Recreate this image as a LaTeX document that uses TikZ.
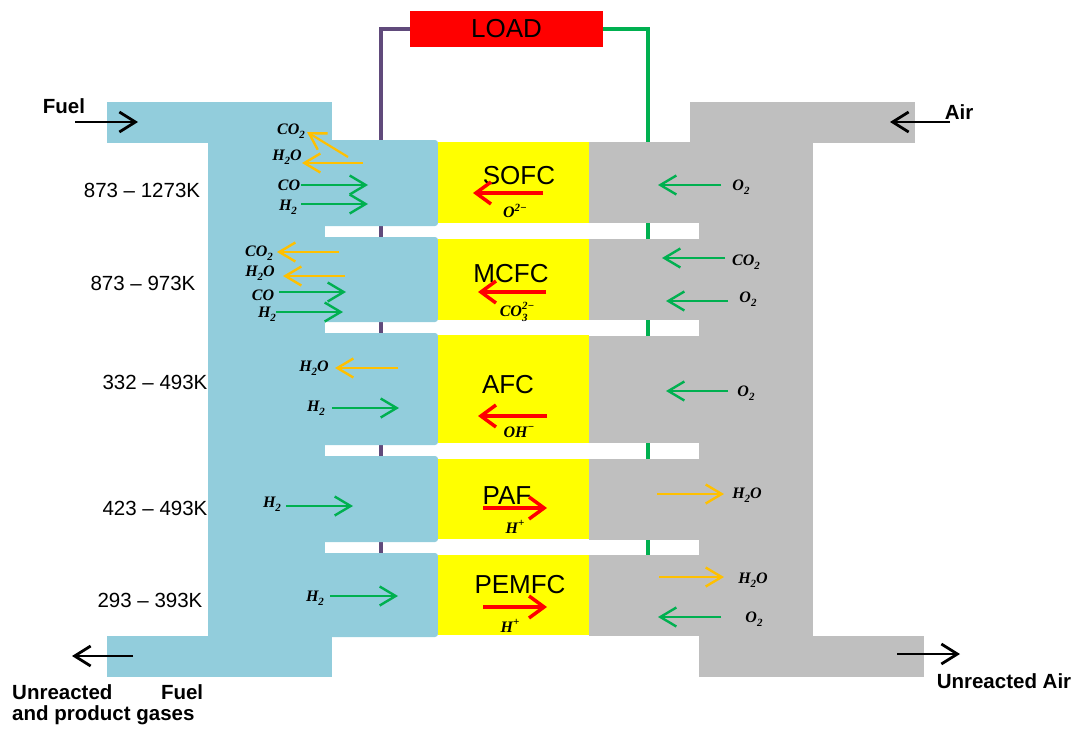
\documentclass[tikz,border=0pt]{standalone}
\usepackage{fontspec}
\setmainfont{Liberation Sans}
\newfontfamily\chemfont{Liberation Serif}
\usetikzlibrary{arrows.meta}
\definecolor{fuelblue}{HTML}{92CDDC}
\definecolor{airgray}{HTML}{BFBFBF}
\definecolor{cellyellow}{HTML}{FFFF00}
\definecolor{loadred}{HTML}{FF0000}
\definecolor{gasgreen}{HTML}{00B050}
\definecolor{gasorange}{HTML}{FFC000}
\definecolor{wirepurple}{HTML}{604A7B}
\newcommand{\chsub}[1]{\raisebox{-0.28em}{\fontsize{11}{11}\selectfont #1}}
\newcommand{\chsup}[1]{\raisebox{0.42em}{\fontsize{11}{11}\selectfont #1}}
\begin{document}
\begin{tikzpicture}[x=1pt,y=-1pt,
  fuelpart/.style={fill=fuelblue},
  airpart/.style={fill=airgray},
  cellpart/.style={fill=cellyellow},
  wire/.style={line width=3.5pt},
  garrow/.style={draw=gasgreen, line width=2.2pt, -{Straight Barb[length=16pt,width=19pt,line width=2.4pt]}},
  oarrow/.style={draw=gasorange, line width=2.2pt, -{Straight Barb[length=16pt,width=19pt,line width=2.4pt]}},
  rarrow/.style={draw=loadred, line width=3.5pt, -{Straight Barb[length=15pt,width=22pt,line width=3.5pt]}},
  karrow/.style={draw=black, line width=2.5pt, -{Straight Barb[length=16pt,width=20pt,line width=2.8pt]}},
  chem/.style={font=\chemfont\bfseries\itshape\fontsize{16}{18}\selectfont, inner sep=0pt},
  temp/.style={font=\fontsize{20.5}{24}\selectfont, inner sep=0pt},
  cellname/.style={font=\fontsize{26}{30}\selectfont, inner sep=0pt},
  boldlabel/.style={font=\fontsize{20.5}{21}\selectfont\bfseries, inner sep=0pt},
  loadbox/.style={fill=loadred, minimum width=193pt, minimum height=36pt, inner sep=0pt, font=\fontsize{26}{30}\selectfont}
]
\useasboundingbox (0,0) rectangle (1078,728);

% load and wires
\node[loadbox] (load) at (506.5,29) {LOAD};
\draw[wire, wirepurple] (load.west) -| (381,553);
\draw[wire, gasgreen] (load.east) -| (648,555);

% fuel side (blue)
\fill[fuelpart] (107,102) rectangle (332,143);
\fill[fuelpart] (208,140) rectangle (325,637);
\fill[fuelpart, rounded corners=3pt] (300,140) rectangle (438,226);
\fill[fuelpart, rounded corners=3pt] (300,237) rectangle (438,322);
\fill[fuelpart, rounded corners=3pt] (300,333) rectangle (438,445);
\fill[fuelpart, rounded corners=3pt] (300,456) rectangle (438,542);
\fill[fuelpart, rounded corners=3pt] (300,553) rectangle (438,637);
\fill[fuelpart] (107,636) rectangle (332,677);

% air side (gray)
\fill[airpart] (690,102) rectangle (915,143);
\fill[airpart] (699,142) rectangle (813,637);
\fill[airpart] (589,142) rectangle (720,223);
\fill[airpart] (589,239) rectangle (720,320);
\fill[airpart] (589,336) rectangle (720,443);
\fill[airpart] (589,459) rectangle (720,540);
\fill[airpart] (589,555) rectangle (720,636);
\fill[airpart] (699,636) rectangle (924,677);

% electrolytes (yellow)
\fill[cellpart] (438,142) rectangle (589,223);
\fill[cellpart] (438,239) rectangle (589,320);
\fill[cellpart] (438,335) rectangle (589,443);
\fill[cellpart] (438,459) rectangle (589,539);
\fill[cellpart] (438,555) rectangle (589,635);

% cell names
\node[cellname] (sofc) at (519,176) {SOFC};
\node[cellname] (mcfc) at (511,274) {MCFC};
\node[cellname] (afc) at (508,385) {AFC};
\node[cellname] (paf) at (507,496) {PAF};
\node[cellname] (pemfc) at (520,585) {PEMFC};

% ion arrows
\draw[rarrow] (543,193) -- (473,193);
\draw[rarrow] (546,292) -- (478,292);
\draw[rarrow] (547,416) -- (478,416);
\draw[rarrow] (483,508) -- (547,508);
\draw[rarrow] (483,607) -- (547,607);
\node[chem] (ion1) at (515,211) {O\chsup{2−}};
\node[chem] (ion2) at (517,312) {CO\rlap{\chsub{3}}\chsup{2−}};
\node[chem] (ion3) at (519,432) {OH\chsup{−}};
\node[chem] (ion4) at (515,527) {H\chsup{+}};
\node[chem] (ion5) at (510,626) {H\chsup{+}};

% temperatures
\node[temp] (t1) at (142,190) {873 – 1273K};
\node[temp] (t2) at (143,283) {873 – 973K};
\node[temp] (t3) at (155,382) {332 – 493K};
\node[temp] (t4) at (155,508) {423 – 493K};
\node[temp] (t5) at (150,600) {293 – 393K};

% fuel-side gases
\node[chem] (a1) at (291,131) {CO\chsub{2}};
\node[chem] (a2) at (287,157) {H\chsub{2}O};
\node[chem] (a3) at (289,185) {CO};
\node[chem] (a4) at (288,207) {H\chsub{2}};
\draw[oarrow] (348,157) -- (307,132);
\draw[oarrow] (363,163) -- (302,163);
\draw[garrow] (301,185) -- (368,185);
\draw[garrow] (301,204) -- (368,204);

\node[chem] (b1) at (259,253) {CO\chsub{2}};
\node[chem] (b2) at (260,273) {H\chsub{2}O};
\node[chem] (b3) at (263,295) {CO};
\node[chem] (b4) at (267,314) {H\chsub{2}};
\draw[oarrow] (339,252) -- (277,252);
\draw[oarrow] (345,276) -- (283,276);
\draw[garrow] (279,292) -- (346,292);
\draw[garrow] (276,312) -- (343,312);

\node[chem] (c1) at (314,368) {H\chsub{2}O};
\node[chem] (c2) at (316,408) {H\chsub{2}};
\draw[oarrow] (398,368) -- (335,368);
\draw[garrow] (332,408) -- (399,408);

\node[chem] (d1) at (272,504) {H\chsub{2}};
\draw[garrow] (286,506) -- (353,506);

\node[chem] (e1) at (315,598) {H\chsub{2}};
\draw[garrow] (330,596) -- (398,596);

% air-side gases
\node[chem] (f1) at (741,187) {O\chsub{2}};
\draw[garrow] (721,185) -- (658,185);
\node[chem] (g1) at (746,262) {CO\chsub{2}};
\node[chem] (g2) at (748,299) {O\chsub{2}};
\draw[garrow] (725,258) -- (662,258);
\draw[garrow] (728,301) -- (666,301);
\node[chem] (h1) at (746,393) {O\chsub{2}};
\draw[garrow] (728,391) -- (666,391);
\node[chem] (i1) at (747,495) {H\chsub{2}O};
\draw[oarrow] (657,494) -- (724,494);
\node[chem] (j1) at (753,580) {H\chsub{2}O};
\node[chem] (j2) at (754,619) {O\chsub{2}};
\draw[oarrow] (659,577) -- (724,577);
\draw[garrow] (721,617) -- (658,617);

% inlet / outlet
\node[boldlabel] (fuel) at (64,106) {Fuel};
\coordinate (fuelin) at (75,122);
\coordinate (fuelinend) at (138,122);
\draw[karrow] (fuelin) -- (fuelinend);
\node[boldlabel] (air) at (959,112) {Air};
\coordinate (airin) at (950,122);
\coordinate (airinend) at (890,122);
\draw[karrow] (airin) -- (airinend);
\coordinate (fuelout) at (133,656);
\coordinate (fueloutend) at (72,656);
\draw[karrow] (fuelout) -- (fueloutend);
\node[boldlabel, anchor=north west, align=left] (fuelouttext) at (12,684)
  {\makebox[191pt][s]{Unreacted Fuel}\\and product gases};
\coordinate (airout) at (897,654);
\coordinate (airoutend) at (960,654);
\draw[karrow] (airout) -- (airoutend);
\node[boldlabel] (airouttext) at (1004,681) {Unreacted Air};
\end{tikzpicture}
\end{document}
